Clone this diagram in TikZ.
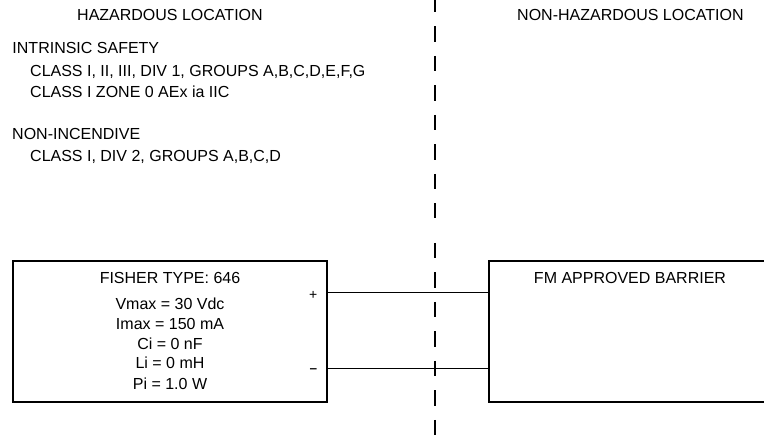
\documentclass[tikz,border=0pt]{standalone}
\usepackage{fontspec}
\setmainfont{Liberation Sans}
\begin{document}
\begin{tikzpicture}[x=1pt,y=-1pt,
  ln/.style={line width=1.2pt,black},
  box/.style={draw,line width=1.2pt,rectangle,inner sep=0pt},
  lbl/.style={inner sep=0pt,font=\fontsize{16}{19}\selectfont},
  sgn/.style={inner sep=0pt,font=\fontsize{14}{16}\selectfont},
  divider/.style={line width=1.2pt,dash pattern=on 15.5pt off 14pt}]
\useasboundingbox (0,0) rectangle (764,435);
\clip (0,0) rectangle (764,435);
% headings
\node[lbl,anchor=base west] (haz) at (77,20.3) {HAZARDOUS LOCATION};
\node[lbl,anchor=base west] (nonhaz) at (517,20.5) {NON-HAZARDOUS LOCATION};
\node[lbl,anchor=base west] (is) at (12.3,54) {INTRINSIC SAFETY};
\node[lbl,anchor=base west] (is1) at (30,76.7) {CLASS I, II, III, DIV 1, GROUPS A,B,C,D,E,F,G};
\node[lbl,anchor=base west] (is2) at (30,97.7) {CLASS I ZONE 0 AEx ia IIC};
\node[lbl,anchor=base west] (ni) at (12,139.5) {NON-INCENDIVE};
\node[lbl,anchor=base west] (ni1) at (30,161.5) {CLASS I, DIV 2, GROUPS A,B,C,D};
% divider
\coordinate (d0) at (435,-3);
\coordinate (d1) at (435,218.5);
\coordinate (d2) at (435,243);
\coordinate (d3) at (435,440);
\draw[divider] (d0) -- (d1);
\draw[divider] (d2) -- (d3);
% boxes
\node[box,minimum width=314pt,minimum height=141pt] (fisher) at (170,331.5) {};
\node[box,minimum width=300pt,minimum height=141pt] (barrier) at (639,331.5) {};
% box texts
\node[lbl,anchor=base] (t0) at (170,283.3) {FISHER TYPE: 646};
\node[lbl,anchor=base] (t1) at (170,310) {Vmax = 30 Vdc};
\node[lbl,anchor=base] (t2) at (170,330) {Imax = 150 mA};
\node[lbl,anchor=base] (t3) at (170,349.3) {Ci = 0 nF};
\node[lbl,anchor=base] (t4) at (170,369) {Li = 0 mH};
\node[lbl,anchor=base] (t5) at (170,390) {Pi = 1.0 W};
\node[lbl,anchor=base] (fm) at (630,283.3) {FM APPROVED BARRIER};
% terminals
\node[sgn] (plus) at (313.3,295) {+};
\node[lbl] (minus) at (313.3,371) {\scalebox{1.7}[1]{-}};
\coordinate (py) at (0,292.7);
\coordinate (my) at (0,368.3);
\draw[ln] (fisher.east |- py) -- (barrier.west |- py);
\draw[ln] (fisher.east |- my) -- (barrier.west |- my);
\end{tikzpicture}
\end{document}
